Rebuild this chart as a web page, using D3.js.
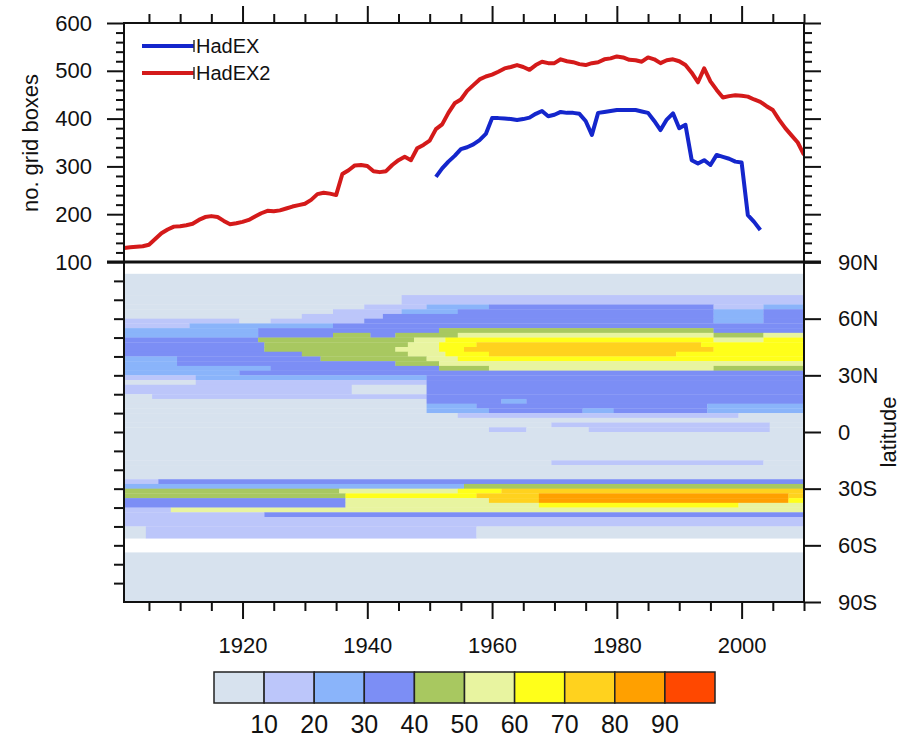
<!DOCTYPE html>
<html>
<head>
<meta charset="utf-8">
<script src="https://cdn.jsdelivr.net/npm/d3@7"></script>
<style>
  body { margin: 0; background: #fff; }
  text { font-family: "Liberation Sans", Arial, sans-serif; fill: #111; }
</style>
</head>
<body>
<div id="chart"></div>
<script>
// station-count series (top panel)
const hadex2Years = d3.range(1901, 2011);
const hadex2Counts = [
  129, 131, 132, 133, 136, 148, 160, 168, 174, 175,
  177, 180, 188, 194, 196, 194, 186, 179, 181, 184,
  188, 195, 202, 207, 206, 208, 212, 216, 219, 222,
  230, 242, 245, 243, 240, 284, 292, 302, 303, 301,
  290, 288, 290, 303, 313, 320, 313, 338, 345, 354,
  378, 388, 412, 432, 440, 458, 470, 482, 488, 492,
  498, 505, 508, 512, 508, 502, 512, 519, 516, 516,
  524, 520, 518, 514, 512, 516, 518, 524, 526, 530,
  528, 523, 522, 519, 528, 524, 516, 522, 524, 520,
  512, 496, 476, 505, 478, 460, 444, 447, 449, 448,
  446, 440, 435, 426, 418, 398, 380, 365, 350, 324
];
const hadexYears = d3.range(1951, 2004);
const hadexCounts = [
  278, 296, 310, 322, 336, 340, 346, 355, 368, 401,
  401, 400, 399, 397, 399, 402, 410, 416, 405, 408,
  414, 412, 412, 410, 395, 366, 412, 414, 416, 418,
  418, 418, 418, 415, 412, 395, 376, 398, 411, 380,
  387, 313, 306, 313, 303, 324, 320, 316, 310, 308,
  198, 184, 167
];

// coverage classes by latitude band: [north, south, [[fromYear, class], ...]]
const latBands = [
  [83.75, 72.5, [[1901, 0]]],
  [72.5, 67.5, [[1901, 0], [1946, 1]]],
  [67.5, 65, [[1901, 0], [1940, 1], [1950, 2], [1960, 3], [1996, 1], [2004, 2]]],
  [65, 62.5, [[1901, 0], [1935, 1], [1946, 2], [1955, 3], [1996, 2], [2004, 3]]],
  [62.5, 60, [[1901, 0], [1930, 1], [1943, 3], [1996, 2], [2004, 3]]],
  [60, 57.5, [[1901, 1], [1920, 0], [1925, 1], [1940, 3], [1996, 2], [2004, 3]]],
  [57.5, 55, [[1901, 1], [1912, 2], [1935, 3]]],
  [55, 52.5, [[1901, 2], [1923, 3], [1952, 4], [1996, 3]]],
  [52.5, 50, [[1901, 2], [1923, 3], [1935, 4], [1941, 3], [1945, 4], [1955, 5], [1996, 4], [2004, 5]]],
  [50, 47.5, [[1901, 3], [1923, 4], [1948, 5], [1953, 6], [1996, 5], [2004, 6]]],
  [47.5, 45, [[1901, 3], [1924, 4], [1947, 5], [1952, 6], [1958, 7], [1994, 6]]],
  [45, 42.5, [[1901, 3], [1924, 4], [1945, 5], [1952, 6], [1956, 7], [1996, 6]]],
  [42.5, 40, [[1901, 3], [1930, 4], [1947, 5], [1953, 6], [1960, 7], [1990, 6]]],
  [40, 37.5, [[1901, 2], [1910, 3], [1933, 4], [1950, 5], [1955, 6]]],
  [37.5, 35, [[1901, 2], [1910, 3], [1945, 4], [1952, 5]]],
  [35, 32.5, [[1901, 2], [1925, 3], [1952, 4], [1960, 5], [1996, 4]]],
  [32.5, 30, [[1901, 2], [1920, 3]]],
  [30, 27.5, [[1901, 1], [1913, 2], [1950, 3]]],
  [27.5, 25, [[1901, 0], [1913, 1], [1950, 3]]],
  [25, 20, [[1901, 1], [1938, 0], [1950, 3]]],
  [20, 17.5, [[1901, 0], [1906, 1], [1950, 3]]],
  [17.5, 15, [[1901, 0], [1950, 3], [1962, 2], [1966, 3]]],
  [15, 12.5, [[1901, 0], [1950, 2], [1958, 3], [1995, 2]]],
  [12.5, 10, [[1901, 0], [1950, 2], [1960, 3], [1975, 2], [1980, 3], [1995, 2]]],
  [10, 7.5, [[1901, 0], [1955, 1], [2000, 0]]],
  [7.5, 5, [[1901, 0]]],
  [5, 2.5, [[1901, 0], [1970, 1], [2005, 0]]],
  [2.5, 0, [[1901, 0], [1960, 1], [1966, 0], [1976, 1], [2005, 0]]],
  [0, -15, [[1901, 0]]],
  [-15, -17.5, [[1901, 0], [1970, 1], [2004, 0]]],
  [-17.5, -25, [[1901, 0]]],
  [-25, -27.5, [[1901, 1], [1907, 3]]],
  [-27.5, -30, [[1901, 2], [1956, 4]]],
  [-30, -32.5, [[1901, 4], [1936, 5], [1955, 6], [1962, 7]]],
  [-32.5, -35, [[1901, 4], [1937, 6], [1958, 7], [1968, 8], [2008, 7]]],
  [-35, -37.5, [[1901, 3], [1937, 5], [1960, 7], [1968, 8], [2008, 6]]],
  [-37.5, -40, [[1901, 3], [1937, 5], [1968, 6], [2000, 5]]],
  [-40, -42.5, [[1901, 1], [1909, 5]]],
  [-42.5, -45, [[1901, 1], [1924, 3]]],
  [-45, -50, [[1901, 1]]],
  [-50, -56.25, [[1901, 0], [1905, 1], [1958, 0]]],
  [-63.75, -90, [[1901, 0]]]
];

const classColors = ["#d7e2ee", "#bcc6fa", "#8ab4fa", "#7c8ef5", "#a8c860",
                     "#e8f4a0", "#ffff1a", "#ffd21e", "#ffa000", "#ff4800"];
const classLabels = ["10", "20", "30", "40", "50", "60", "70", "80", "90"];
const latTicks = [90, 60, 30, 0, -30, -60, -90];
const latLabels = ["90N", "60N", "30N", "0", "30S", "60S", "90S"];

const W = 924, H = 737;
const left = 124, right = 804, topY = 23, midY = 262, botY = 602;

const svg = d3.select("#chart").append("svg")
    .attr("width", W)
    .attr("height", H);

const x = d3.scaleLinear().domain([1901, 2010]).range([left, right]);
const yTop = d3.scaleLinear().domain([100, 600]).range([midY, topY]);
const yLat = d3.scaleLinear().domain([90, -90]).range([midY, botY]);

// clip for both panels
const defs = svg.append("defs");
defs.append("clipPath").attr("id", "clipBot")
    .append("rect").attr("x", left).attr("y", midY).attr("width", right - left).attr("height", botY - midY);
defs.append("clipPath").attr("id", "clipTop")
    .append("rect").attr("x", left).attr("y", topY).attr("width", right - left).attr("height", midY - topY);

// heat map cells
const cells = [];
latBands.forEach(function(b) {
  const runs = b[2];
  runs.forEach(function(r, i) {
    const end = i < runs.length - 1 ? runs[i + 1][0] : 2011;
    cells.push({n: b[0], s: b[1], y0: r[0], y1: end, c: r[1]});
  });
});

svg.append("g")
    .attr("clip-path", "url(#clipBot)")
    .selectAll("rect")
    .data(cells)
    .enter().append("rect")
    .attr("x", d => x(d.y0 - 0.5))
    .attr("width", d => x(d.y1 - 0.5) - x(d.y0 - 0.5) + 0.3)
    .attr("y", d => yLat(d.n))
    .attr("height", d => yLat(d.s) - yLat(d.n) + 0.3)
    .attr("fill", d => classColors[d.c]);

// lines
const line = d3.line()
    .x(d => x(d[0]))
    .y(d => yTop(d[1]));

const gLines = svg.append("g").attr("clip-path", "url(#clipTop)");
gLines.append("path")
    .datum(d3.zip(hadex2Years, hadex2Counts))
    .attr("d", line)
    .attr("fill", "none")
    .attr("stroke", "#d41a1a")
    .attr("stroke-width", 4)
    .attr("stroke-linejoin", "round");
gLines.append("path")
    .datum(d3.zip(hadexYears, hadexCounts))
    .attr("d", line)
    .attr("fill", "none")
    .attr("stroke", "#1426cc")
    .attr("stroke-width", 4)
    .attr("stroke-linejoin", "round");

// legend
const legend = [["HadEX", "#1426cc", 46], ["HadEX2", "#d41a1a", 73]];
legend.forEach(function(l) {
  svg.append("line")
      .attr("x1", 142).attr("x2", 194)
      .attr("y1", l[2]).attr("y2", l[2])
      .attr("stroke", l[1]).attr("stroke-width", 4);
  svg.append("line")
      .attr("x1", 194).attr("x2", 194)
      .attr("y1", l[2] - 6).attr("y2", l[2] + 6)
      .attr("stroke", "#333").attr("stroke-width", 1.5);
  svg.append("text")
      .attr("x", 196).attr("y", l[2])
      .attr("dy", "0.36em")
      .style("font-size", "20px")
      .text(l[0]);
});

// axes helper
function styleAxis(g) {
  g.select(".domain").remove();
  g.selectAll(".tick line").attr("stroke", "#111").attr("stroke-width", 2);
  g.selectAll(".tick text").style("font-size", "22px");
}

const majorYears = [1920, 1940, 1960, 1980, 2000];
const minorYears = d3.range(1905, 2011, 5).filter(v => majorYears.indexOf(v) < 0);

// top panel axes
svg.append("g").attr("transform", "translate(0," + topY + ")")
    .call(d3.axisTop(x).tickValues(majorYears).tickSize(17).tickFormat(""))
    .call(styleAxis);
svg.append("g").attr("transform", "translate(0," + topY + ")")
    .call(d3.axisTop(x).tickValues(minorYears).tickSize(9).tickFormat(""))
    .call(styleAxis);

svg.append("g").attr("transform", "translate(" + left + ",0)")
    .call(d3.axisLeft(yTop).tickValues(d3.range(100, 601, 100)).tickSize(17).tickPadding(15).tickFormat(d3.format("d")))
    .call(styleAxis);
svg.append("g").attr("transform", "translate(" + left + ",0)")
    .call(d3.axisLeft(yTop).tickValues(d3.range(120, 600, 20).filter(v => v % 100)).tickSize(8).tickFormat(""))
    .call(styleAxis);
svg.append("g").attr("transform", "translate(" + right + ",0)")
    .call(d3.axisRight(yTop).tickValues(d3.range(100, 601, 100)).tickSize(17).tickFormat(""))
    .call(styleAxis);
svg.append("g").attr("transform", "translate(" + right + ",0)")
    .call(d3.axisRight(yTop).tickValues(d3.range(120, 600, 20).filter(v => v % 100)).tickSize(8).tickFormat(""))
    .call(styleAxis);

// bottom panel axes
svg.append("g").attr("transform", "translate(" + left + ",0)")
    .call(d3.axisLeft(yLat).tickValues(d3.range(-80, 90, 10)).tickSize(10).tickFormat(""))
    .call(styleAxis);
svg.append("g").attr("transform", "translate(" + right + ",0)")
    .call(d3.axisRight(yLat).tickValues(latTicks).tickSize(17).tickPadding(17)
        .tickFormat((d, i) => latLabels[i]))
    .call(styleAxis);

const xb = svg.append("g").attr("transform", "translate(0," + botY + ")")
    .call(d3.axisBottom(x).tickValues(majorYears).tickSize(17).tickFormat(d3.format("d")))
    .call(styleAxis);
xb.selectAll(".tick text").attr("y", 35);
svg.append("g").attr("transform", "translate(0," + botY + ")")
    .call(d3.axisBottom(x).tickValues(minorYears).tickSize(9).tickFormat(""))
    .call(styleAxis);

// frames
svg.append("rect")
    .attr("x", left).attr("y", topY)
    .attr("width", right - left).attr("height", midY - topY)
    .attr("fill", "none").attr("stroke", "#111").attr("stroke-width", 2);
svg.append("rect")
    .attr("x", left).attr("y", midY)
    .attr("width", right - left).attr("height", botY - midY)
    .attr("fill", "none").attr("stroke", "#111").attr("stroke-width", 2);
svg.append("line")
    .attr("x1", left - 17).attr("x2", right + 17)
    .attr("y1", midY).attr("y2", midY)
    .attr("stroke", "#111").attr("stroke-width", 3);

// axis titles
svg.append("text")
    .attr("transform", "translate(38,143) rotate(-90)")
    .attr("text-anchor", "middle")
    .style("font-size", "22px")
    .text("no. grid boxes");
svg.append("text")
    .attr("transform", "translate(896,432) rotate(-90)")
    .attr("text-anchor", "middle")
    .style("font-size", "22px")
    .text("latitude");

// colour bar
const cb = d3.scaleLinear().domain([0, 10]).range([214, 715]);
const cbY = 672, cbH = 31;
svg.append("g").selectAll("rect")
    .data(classColors)
    .enter().append("rect")
    .attr("x", (d, i) => cb(i))
    .attr("y", cbY)
    .attr("width", cb(1) - cb(0))
    .attr("height", cbH)
    .attr("fill", d => d)
    .attr("stroke", "#222")
    .attr("stroke-width", 1.5);
svg.append("g").selectAll("text")
    .data(classLabels)
    .enter().append("text")
    .attr("x", (d, i) => cb(i + 1))
    .attr("y", 733)
    .attr("text-anchor", "middle")
    .style("font-size", "25px")
    .text(d => d);
</script>
</body>
</html>
